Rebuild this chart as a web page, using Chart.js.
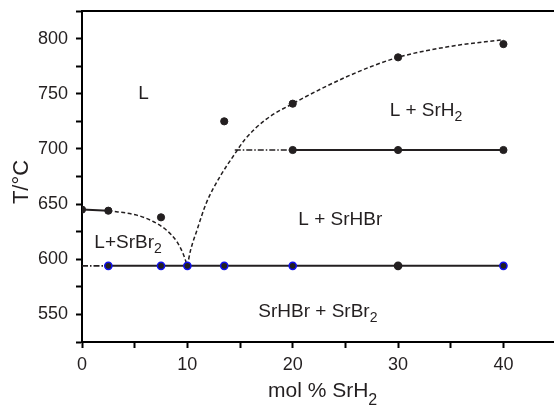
<!DOCTYPE html>
<html>
<head>
<meta charset="utf-8">
<script src="https://cdn.jsdelivr.net/npm/chart.js@4.4.1/dist/chart.umd.min.js"></script>
<style>
  html, body { margin: 0; padding: 0; background: #fff; }
  #wrap { width: 554px; height: 405px; }
</style>
</head>
<body>
<div id="wrap"><canvas id="phase"></canvas></div>
<script>
// measured points (mol % SrH2, T in °C)
const liqLeftX = [0, 2.5, 7.5];
const liqLeftY = [645, 644, 638];
const liqRightX = [13.5, 20, 30, 40];
const liqRightY = [725, 741, 783, 795];
const eutX = [2.5, 7.5, 10, 13.5, 20, 30, 40];
const eutT = 594;
const perX = [20, 30, 40];
const perT = 699;

// dotted liquidus curves
const curveAX = [2.5, 5.2, 6.8, 8.0, 9.0, 9.6, 10];
const curveAY = [644, 640, 634, 626.5, 616, 605, 594];
const curveBX = [10, 10.3, 10.9, 11.8, 13.1, 14.4, 15.5, 17.5, 20, 25.5, 30, 35, 40];
const curveBY = [594, 608, 626, 651, 675, 694, 709, 727, 741, 767, 783, 793, 799];

// dash-dot extensions of the horizontals
const eutExtX = [0, 2.5];
const perExtX = [14.5, 20];

const xTicks = [0, 10, 20, 30, 40];
const yTicks = [550, 600, 650, 700, 750, 800];

const INK = "#231f20";
const FONT = "'Liberation Sans', Arial, sans-serif";

const pts = (xs, ys) => xs.map((x, i) => ({ x, y: Array.isArray(ys) ? ys[i] : ys }));

// region labels: left edge x and baseline y in data units
const regionLabels = [
  { parts: [["L"]], x: 5.35, y: 745.5 },
  { parts: [["L + SrH"], ["2", true]], x: 29.2, y: 729.6 },
  { parts: [["L + SrHBr"]], x: 20.53, y: 631 },
  { parts: [["L+SrBr"], ["2", true]], x: 1.17, y: 610 },
  { parts: [["SrHBr + SrBr"], ["2", true]], x: 16.73, y: 548 }
];

function drawRich(ctx, parts, x, y, size, subSize, subDrop) {
  let cx = x;
  parts.forEach(([txt, sub]) => {
    ctx.font = (sub ? subSize : size) + "px " + FONT;
    ctx.fillText(txt, cx, sub ? y + subDrop : y);
    cx += ctx.measureText(txt).width;
  });
}

const decor = {
  id: "decor",
  afterDatasetsDraw(chart) {
    const { ctx, chartArea: a, scales: { x, y } } = chart;
    ctx.save();
    // top frame line
    ctx.strokeStyle = "#000";
    ctx.lineWidth = 2;
    ctx.beginPath();
    ctx.moveTo(a.left, a.top);
    ctx.lineTo(a.right, a.top);
    ctx.stroke();

    ctx.fillStyle = INK;
    ctx.textAlign = "left";
    ctx.textBaseline = "alphabetic";
    regionLabels.forEach(l => {
      drawRich(ctx, l.parts, x.getPixelForValue(l.x), y.getPixelForValue(l.y), 19, 14, 5);
    });

    // axis titles
    drawRich(ctx, [["mol % SrH"], ["2", true]], 268, 397, 21, 16, 8);
    ctx.translate(28, 182);
    ctx.rotate(-Math.PI / 2);
    ctx.textAlign = "center";
    ctx.font = "22px " + FONT;
    ctx.fillText("T/°C", 0, 0);
    ctx.restore();
  }
};

const dot = { showLine: false, pointRadius: 3.6, pointHoverRadius: 3.6, pointBackgroundColor: INK, pointBorderColor: INK, pointBorderWidth: 1 };
const dashed = { showLine: true, pointRadius: 0, borderColor: INK, borderWidth: 1.5, borderDash: [4, 2.5], cubicInterpolationMode: "monotone" };
const dashDot = { showLine: true, pointRadius: 0, borderColor: INK, borderWidth: 1.6, borderDash: [6, 2, 1.5, 2] };

new Chart(document.getElementById("phase"), {
  type: "scatter",
  data: {
    datasets: [
      { ...dot, data: pts(liqLeftX, liqLeftY) },
      { ...dot, data: pts(liqRightX, liqRightY) },
      {
        ...dot, showLine: true, borderColor: INK, borderWidth: 2,
        pointBorderColor: eutX.map(v => v === 30 ? INK : "#1010f0"), pointBorderWidth: 1.5,
        data: pts(eutX, eutT)
      },
      { ...dot, showLine: true, borderColor: INK, borderWidth: 2, data: pts(perX, perT) },
      { showLine: true, pointRadius: 0, borderColor: INK, borderWidth: 2, data: pts(liqLeftX.slice(0, 2), liqLeftY.slice(0, 2)) },
      { ...dashed, data: pts(curveAX, curveAY) },
      { ...dashed, data: pts(curveBX, curveBY) },
      { ...dashDot, data: pts(eutExtX, eutT) },
      { ...dashDot, data: pts(perExtX, perT) }
    ]
  },
  options: {
    responsive: true,
    maintainAspectRatio: false,
    animation: false,
    events: [],
    layout: { autoPadding: false, padding: { top: 11, left: 0, right: 0, bottom: 0 } },
    plugins: { legend: { display: false }, tooltip: { enabled: false } },
    scales: {
      x: {
        type: "linear", min: 0, max: 44.8,
        afterFit: s => { s.height = 63; s.paddingLeft = 0; s.paddingRight = 0; },
        ticks: {
          stepSize: 5, autoSkip: false, maxRotation: 0, padding: 6, includeBounds: false,
          color: INK, font: { size: 18, family: FONT },
          callback: v => xTicks.includes(v) ? v : ""
        },
        grid: { drawOnChartArea: false, drawTicks: true, tickLength: 6, tickWidth: 2, tickColor: "#000" },
        border: { color: "#000", width: 2 }
      },
      y: {
        min: 525, max: 825,
        afterFit: s => { s.width = 82; s.paddingTop = 0; s.paddingBottom = 0; },
        ticks: {
          stepSize: 25, autoSkip: false, padding: 8,
          color: INK, font: { size: 18, family: FONT },
          callback: v => yTicks.includes(v) ? v : ""
        },
        grid: { drawOnChartArea: false, drawTicks: true, tickLength: 6, tickWidth: 2, tickColor: "#000" },
        border: { color: "#000", width: 2 }
      }
    }
  },
  plugins: [decor]
});
</script>
</body>
</html>
